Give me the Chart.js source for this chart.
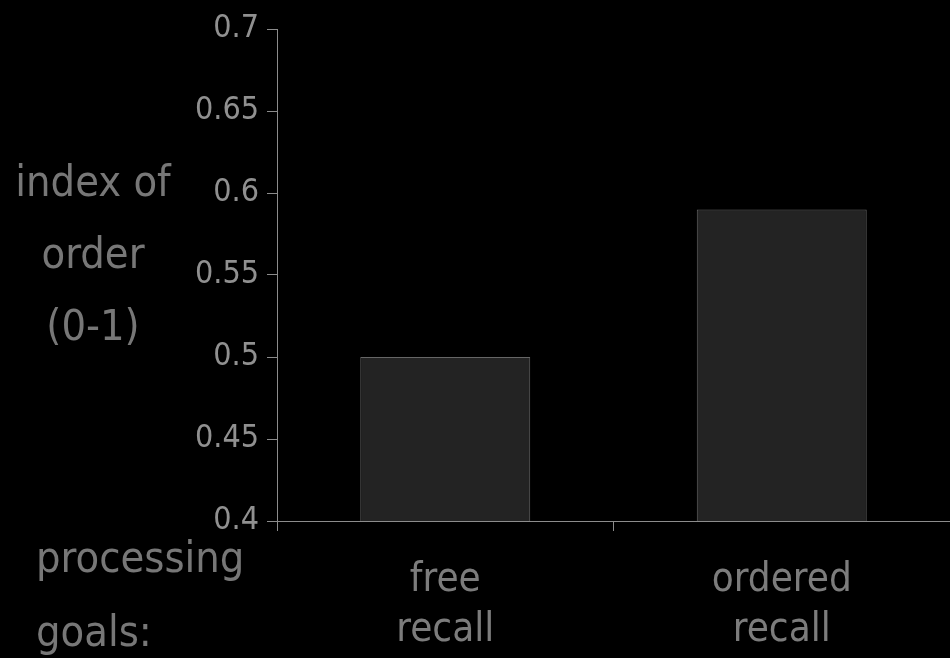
<!DOCTYPE html>
<html>
<head>
<meta charset="utf-8">
<script src="https://cdn.jsdelivr.net/npm/chart.js@4"></script>
<style>
  html, body { margin: 0; padding: 0; background: #000; }
  #wrap { width: 950px; height: 658px; }
</style>
</head>
<body>
<div id="wrap"><canvas id="orderChart"></canvas></div>
<script>
const categories = [['free', 'recall'], ['ordered', 'recall']];
const orderIndex = [0.50, 0.59];
const yTitle = ['index of', 'order', '(0-1)'];
const xTitle = ['processing', 'goals:'];

const FONT = "'DejaVu Sans Condensed', 'DejaVu Sans', sans-serif";

// left-side titles, drawn next to the axes
const sideTitles = {
  id: 'sideTitles',
  afterDraw(chart) {
    const ctx = chart.ctx;
    ctx.save();
    ctx.fillStyle = '#777';
    ctx.font = '43px ' + FONT;
    ctx.textAlign = 'center';
    ctx.textBaseline = 'middle';
    yTitle.forEach((t, i) => ctx.fillText(t, 93, 185 + i * 72));
    ctx.textAlign = 'left';
    xTitle.forEach((t, i) => ctx.fillText(t, 36, 561 + i * 74));
    ctx.restore();
  }
};

new Chart(document.getElementById('orderChart'), {
  type: 'bar',
  data: {
    labels: categories,
    datasets: [{
      data: orderIndex,
      backgroundColor: '#232323',
      borderColor: '#666',
      borderWidth: 1,
      barPercentage: 0.505,
      categoryPercentage: 1
    }]
  },
  options: {
    responsive: true,
    maintainAspectRatio: false,
    animation: false,
    layout: { padding: { top: 29, left: 0, right: 0, bottom: 0 } },
    plugins: { legend: { display: false }, tooltip: { enabled: false } },
    scales: {
      y: {
        min: 0.4,
        max: 0.7,
        ticks: {
          stepSize: 0.05,
          color: '#909090',
          font: { family: FONT, size: 32 },
          padding: 8,
          callback: v => String(+v.toFixed(2))
        },
        grid: { drawOnChartArea: false, drawTicks: true, tickLength: 10, color: '#8c8c8c' },
        border: { color: '#8c8c8c', width: 1 },
        afterFit(scale) { scale.width = 277; }
      },
      x: {
        ticks: { color: '#7c7c7c', font: { family: FONT, size: 40, lineHeight: 1.25 }, padding: 25 },
        grid: { offset: true, drawOnChartArea: false, drawTicks: true, tickLength: 10, color: '#8c8c8c' },
        border: { color: '#8c8c8c', width: 1 },
        afterFit(scale) { scale.height = 137; }
      }
    }
  },
  plugins: [sideTitles]
});
</script>
</body>
</html>
